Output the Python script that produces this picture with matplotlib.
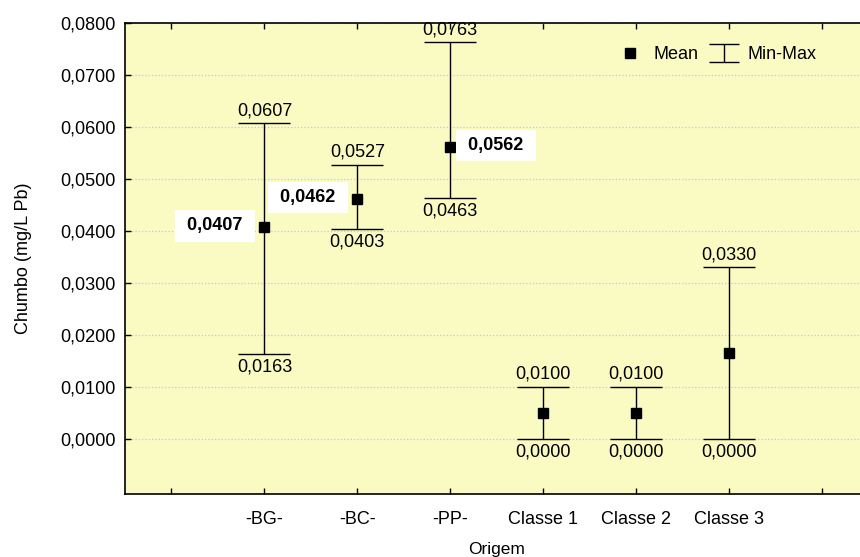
import numpy as np
import matplotlib.pyplot as plt
from matplotlib.lines import Line2D
from matplotlib.ticker import FuncFormatter

plt.rcParams['font.family'] = ['Liberation Sans', 'DejaVu Sans']

# Lead (Pb) concentration by origin
categories = ['-BG-', '-BC-', '-PP-', 'Classe 1', 'Classe 2', 'Classe 3']
means = [0.0407, 0.0462, 0.0562, 0.0050, 0.0050, 0.0165]
mins = [0.0163, 0.0403, 0.0463, 0.0000, 0.0000, 0.0000]
maxs = [0.0607, 0.0527, 0.0763, 0.0100, 0.0100, 0.0330]
# which side the bold mean label goes (None = no label)
mean_side = ['left', 'left', 'right', None, None, None]

tick_labels = [''] + categories + ['']
x = np.arange(1, len(categories) + 1)
means_a = np.array(means)
yerr = [means_a - np.array(mins), np.array(maxs) - means_a]


def fmt(v):
    return f'{v:.4f}'.replace('.', ',')


fig = plt.figure(figsize=(8.6, 5.57), dpi=100)
ax = fig.add_axes([125 / 860, 63 / 557, 743.5 / 860, 471 / 557])
ax.set_facecolor('#F9FBC3')

ax.errorbar(x, means, yerr=yerr, fmt='s', color='black', ms=7.5,
            elinewidth=1.0, capsize=19, capthick=1.0, zorder=3)

fs = 13
for xi, m, lo, hi, side in zip(x, means, mins, maxs, mean_side):
    ax.annotate(fmt(hi), (xi, hi), xytext=(0, 3),
                textcoords='offset points', ha='center', va='bottom', fontsize=fs)
    ax.annotate(fmt(lo), (xi, lo), xytext=(0, -3),
                textcoords='offset points', ha='center', va='top', fontsize=fs)
    if side is None:
        continue
    dx = -12.0 if side == 'left' else 9.5
    ax.annotate(' ' + fmt(m) + ' ', (xi, m), xytext=(dx, 1), textcoords='offset points',
                ha='right' if side == 'left' else 'left', va='center',
                fontsize=fs, fontweight='bold', zorder=4,
                bbox=dict(boxstyle='square,pad=0.4', fc='white', ec='none'))

ax.set_xlim(-0.5, 7.5)
ax.set_ylim(-0.0106, 0.0800)
ax.set_xticks(np.arange(len(tick_labels)))
ax.set_xticklabels(tick_labels)
ax.set_yticks(np.arange(0, 0.0801, 0.01))
ax.yaxis.set_major_formatter(FuncFormatter(lambda v, p: fmt(v)))
ax.tick_params(direction='in', length=4, width=1, labelsize=fs,
               top=True, right=True)
ax.tick_params(axis='x', pad=12)
ax.tick_params(axis='y', pad=7)
ax.grid(axis='y', color='#C8C8C8', linestyle=':', linewidth=0.9)
ax.set_axisbelow(True)
for s in ax.spines.values():
    s.set_linewidth(1.2)

ax.set_xlabel('Origem', fontsize=12.5, labelpad=10.5)
ax.set_ylabel('Chumbo (mg/L Pb)', fontsize=fs, labelpad=20)

# legend: square marker for the mean, capped bar for the range
mean_h = Line2D([], [], marker='s', color='black', ls='none', ms=7.5)
rng_h = ax.errorbar([-5], [0.03], yerr=[[0.01], [0.01]], fmt='none',
                    color='black', capsize=11, elinewidth=1.0, capthick=1.0)
ax.legend([mean_h, rng_h], ['Mean', 'Min-Max'], ncol=2, frameon=False,
          loc='upper right', bbox_to_anchor=(0.952, 0.985), fontsize=fs,
          handlelength=1.6, columnspacing=0.6, handletextpad=0.5)

fig.savefig('out.png', dpi=100)
